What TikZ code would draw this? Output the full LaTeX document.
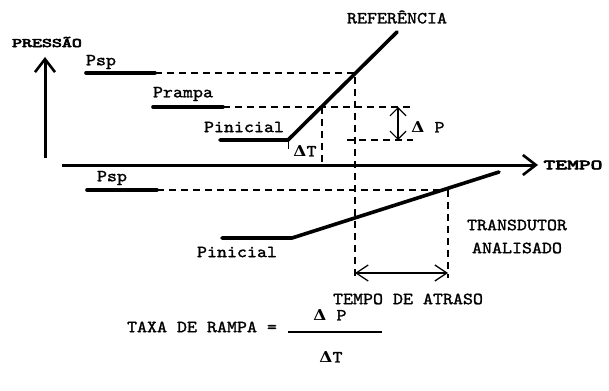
\documentclass[tikz,border=0pt]{standalone}
\usepackage{fontspec}
\newfontfamily\tw{lmmono10-regular}[Extension=.otf, FakeBold=1.4]
\newfontfamily\heavy{lmmono10-regular}[Extension=.otf, FakeBold=4]
\newfontfamily\dvs{DejaVu Serif}
\usetikzlibrary{arrows.meta}
\newcommand{\Dlt}{{\dvs\bfseries\fontsize{15}{17}\selectfont Δ}}
\begin{document}
\begin{tikzpicture}[x=1pt,y=-1pt,
  lbl/.style={font=\fontsize{17}{19}\tw, inner sep=0pt, xscale=1.12},
  hvy/.style={font=\fontsize{13}{15}\heavy, inner sep=0pt},
  lvl/.style={line width=3.6pt, line cap=round},
  dsh/.style={line width=1.1pt, dash pattern=on 7pt off 5pt},
  axis/.style={line width=3pt, -{Straight Barb[length=13pt,width=20pt,line width=2.6pt]}},
  dim/.style={line width=1.2pt, {Straight Barb[length=8pt,width=16pt]}-{Straight Barb[length=8pt,width=16pt]}}
]
\useasboundingbox (0,0) rectangle (609,390);
% coordinates
\coordinate (vb) at (45,158); \coordinate (vt) at (45,57);
\coordinate (hl) at (62,165); \coordinate (hr) at (538,165);
\coordinate (p1a) at (86,73); \coordinate (p1b) at (155,73); \coordinate (p1c) at (355,73);
\coordinate (va) at (355,278);
\coordinate (pra) at (153,107); \coordinate (prb) at (223,107); \coordinate (prc) at (413,107);
\coordinate (pia) at (220,140); \coordinate (pib) at (288,140); \coordinate (rt) at (397,32);
\coordinate (dpa) at (347,140); \coordinate (dpb) at (413,140);
\coordinate (dta) at (322,107); \coordinate (dtb) at (322,162);
\coordinate (tka) at (288,140); \coordinate (tkb) at (288,149);
\coordinate (apa) at (398,107); \coordinate (apb) at (398,140);
\coordinate (p2a) at (87,190); \coordinate (p2b) at (157,190); \coordinate (p2c) at (442,190);
\coordinate (qia) at (222,238); \coordinate (qib) at (292,238); \coordinate (qt) at (499,172);
\coordinate (vba) at (448,190); \coordinate (vbb) at (448,278);
\coordinate (ata) at (355,273); \coordinate (atb) at (448,273);
\coordinate (fra) at (288,332); \coordinate (frb) at (382,332);
% axes
\draw[axis] (vb) -- (vt);
\draw[axis] (hl) -- (hr);
% reference
\draw[lvl] (p1a) -- (p1b);
\draw[dsh] (p1b) -- (p1c) -- (va);
\draw[lvl] (pra) -- (prb);
\draw[dsh] (prb) -- (prc);
\draw[lvl] (pia) -- (pib) -- (rt);
\draw[dsh] (dpa) -- (dpb);
\draw[dsh] (dta) -- (dtb);
\draw[line width=1pt] (tka) -- (tkb);
\draw[dim] (apa) -- (apb);
% transducer
\draw[lvl] (p2a) -- (p2b);
\draw[dsh] (p2b) -- (p2c);
\draw[lvl] (qia) -- (qib) -- (qt);
\draw[dsh] (vba) -- (vbb);
\draw[line width=1.3pt, {Straight Barb[length=12pt,width=16pt]}-{Straight Barb[length=12pt,width=16pt]}] (ata) -- (atb);
\draw[line width=1.3pt] (fra) -- (frb);
% labels
\node[hvy, xscale=1.46] (pressao) at (47,42) {PRESSÃO};
\node[hvy, xscale=1.6, font=\fontsize{14}{16}\heavy] (tempo) at (573,165) {TEMPO};
\node[lbl] (ref) at (397,17) {REFERÊNCIA};
\node[lbl] (psp1) at (101,62) {Psp};
\node[lbl] (pramp) at (183,94) {Prampa};
\node[lbl] (pini1) at (244,127) {Pinicial};
\node[lbl] (dT) at (305,151) {\Dlt T};
\node[lbl] (dP) at (428,127) {\Dlt{} P};
\node[lbl] (psp2) at (112,178) {Psp};
\node[lbl] (pini2) at (237,252) {Pinicial};
\node[lbl] (trans) at (517,225) {TRANSDUTOR};
\node[lbl] (anal) at (517,248) {ANALISADO};
\node[lbl] (atraso) at (408,299) {TEMPO DE ATRASO};
\node[lbl] (taxa) at (202,327) {TAXA DE RAMPA =};
\node[lbl] (fdP) at (330,315) {\Dlt{} P};
\node[lbl] (fdT) at (331,357) {\Dlt T};
\end{tikzpicture}
\end{document}
